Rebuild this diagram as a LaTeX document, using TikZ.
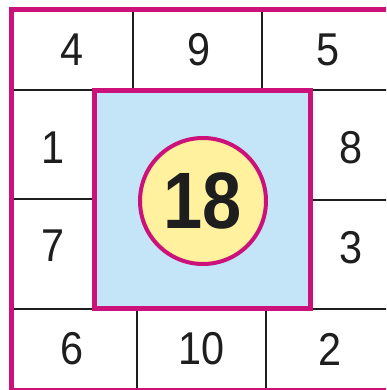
\documentclass[tikz,border=0pt]{standalone}
\usepackage{fontspec}
\setmainfont{Liberation Sans}
\definecolor{rimpink}{RGB}{204,18,122}
\definecolor{skyfill}{RGB}{196,229,248}
\definecolor{creamfill}{RGB}{255,241,158}
\definecolor{ink}{RGB}{30,30,30}
\begin{document}
\begin{tikzpicture}[x=1pt,y=-1pt,
    num/.style={font=\fontsize{46}{46}\selectfont, text=ink, inner sep=0pt},
    bignum/.style={font=\bfseries\fontsize{80}{80}\selectfont, text=ink, inner sep=0pt},
    thinline/.style={line width=1.6pt, draw=ink},
    frame/.style={line width=5pt, draw=rimpink}]
    \useasboundingbox (0,0) rectangle (386,390);
    \clip (0,0) rectangle (386,390);
    \fill[white] (0,0) rectangle (386,390);
    % cell lines
    \draw[thinline] (11,90) -- (392,90);
    \draw[thinline] (11,309) -- (392,309);
    \draw[thinline] (11,199) -- (94,199);
    \draw[thinline] (310,200) -- (392,200);
    \draw[thinline] (133,10) -- (133,90);
    \draw[thinline] (262,10) -- (262,90);
    \draw[thinline] (137,309) -- (137,390);
    \draw[thinline] (266,309) -- (266,390);
    % outer frame and centre square
    \draw[frame] (11,10) rectangle (392,390);
    \draw[frame, fill=skyfill] (94,91) rectangle (310,308);
    \node[draw=rimpink, line width=4pt, fill=creamfill, circle,
          minimum size=126pt, inner sep=0pt] (sum) at (203,201) {};
    \node[bignum] (total) at (sum.center) {\scalebox{0.88}[1]{18}};
    % numbers round the square
    \node[num] (top1) at (72,50) {\scalebox{0.9}[1]{4}};
    \node[num] (top2) at (199,50) {\scalebox{0.9}[1]{9}};
    \node[num] (top3) at (328,50) {\scalebox{0.9}[1]{5}};
    \node[num] (left1) at (53,148) {\scalebox{0.9}[1]{1}};
    \node[num] (left2) at (53,246) {\scalebox{0.9}[1]{7}};
    \node[num] (right1) at (351,148) {\scalebox{0.9}[1]{8}};
    \node[num] (right2) at (351,248) {\scalebox{0.9}[1]{3}};
    \node[num] (bot1) at (72,349) {\scalebox{0.9}[1]{6}};
    \node[num] (bot2) at (202,349) {\scalebox{0.9}[1]{10}};
    \node[num] (bot3) at (330,349) {\scalebox{0.9}[1]{2}};
\end{tikzpicture}
\end{document}
